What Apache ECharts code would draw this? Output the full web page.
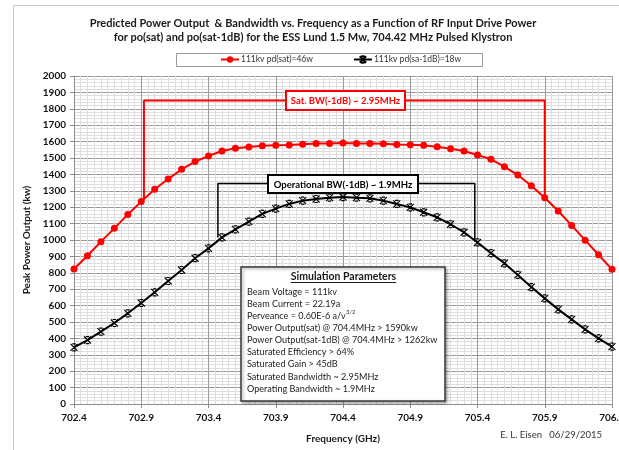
<!DOCTYPE html>
<html>
<head>
<meta charset="utf-8">
<script src="https://cdn.jsdelivr.net/npm/echarts@6/dist/echarts.min.js"></script>
<style>
html,body{margin:0;padding:0;background:#fff;}
#chart{width:619px;height:450px;}
</style>
</head>
<body>
<div id="chart"></div>
<script>
// ---- data ----
const frequency = [702.4, 702.5, 702.6, 702.7, 702.8, 702.9, 703.0, 703.1, 703.2, 703.3,
  703.4, 703.5, 703.6, 703.7, 703.8, 703.9, 704.0, 704.1, 704.2, 704.3,
  704.4, 704.5, 704.6, 704.7, 704.8, 704.9, 705.0, 705.1, 705.2, 705.3,
  705.4, 705.5, 705.6, 705.7, 705.8, 705.9, 706.0, 706.1, 706.2, 706.3, 706.4];
const satPower = [823, 904, 990, 1071, 1156, 1234, 1309, 1372, 1431, 1478,
  1512, 1543, 1559, 1567, 1575, 1577, 1579, 1584, 1589, 1589,
  1591, 1589, 1589, 1587, 1583, 1581, 1577, 1569, 1557, 1543,
  1518, 1492, 1447, 1396, 1331, 1258, 1177, 1089, 999, 910, 821];
const sat1dBPower = [345, 390, 441, 494, 553, 616, 681, 750, 817, 889,
  949, 1016, 1065, 1112, 1159, 1191, 1220, 1240, 1250, 1258,
  1262, 1258, 1254, 1240, 1220, 1199, 1169, 1138, 1096, 1047,
  985, 920, 858, 787, 713, 644, 577, 516, 455, 400, 350];
const seriesNames = ['111kv pd(sat)=46w', '111kv pd(sa-1dB)=18w'];
const satBracketX = [702.92, 702.92, 705.9, 705.9];
const satBracketY = [1250, 1850, 1850, 1262];
const opBracketX = [703.47, 703.47, 705.38, 705.38];
const opBracketY = [1016, 1345, 1345, 990];
const xTickStart = 702.4, xTickEnd = 706.4, xTickStep = 0.5;
const yTickStart = 0, yTickEnd = 2000, yTickStep = 100;
const titleLines = ['Predicted Power Output  & Bandwidth vs. Frequency as a Function of RF Input Drive Power',
  'for po(sat) and po(sat-1dB) for the ESS Lund 1.5 Mw, 704.42 MHz Pulsed Klystron'];
const satBWLabel = 'Sat. BW(-1dB) ~ 2.95MHz';
const opBWLabel = 'Operational BW(-1dB) ~ 1.9MHz';
const paramsTitle = 'Simulation Parameters';
const paramsLines = ['Beam Voltage = 111kv', 'Beam Current = 22.19a', 'Perveance = 0.60E-6 a/v',
  'Power Output(sat) @ 704.4MHz > 1590kw', 'Power Output(sat-1dB) @ 704.4MHz > 1262kw',
  'Saturated Efficiency > 64%', 'Saturated Gain > 45dB', 'Saturated Bandwidth ~ 2.95MHz',
  'Operating Bandwidth ~ 1.9MHz'];
const credit = 'E. L. Eisen   06/29/2015';

// ---- chart ----
const FONT = 'Lato';
const chart = echarts.init(document.getElementById('chart'), null, {renderer: 'canvas'});

function textWidth(t, font) {
  const c = document.createElement('canvas').getContext('2d');
  c.font = font;
  return c.measureText(t).width;
}

const satData = frequency.map((f, i) => [f, satPower[i]]);
const s1dBData = frequency.map((f, i) => [f, sat1dBPower[i]]);
const satBr = satBracketX.map((x, i) => [x, satBracketY[i]]);
const opBr = opBracketX.map((x, i) => [x, opBracketY[i]]);

const paramY = [292.3, 304.3, 316.2, 328.2, 340.2, 352.2, 364.4, 376.6, 388.7];
const paramFont = 9.1;
const ptW = textWidth(paramsTitle, 'bold 10.5px ' + FONT);
const pervW = textWidth(paramsLines[2], paramFont + 'px ' + FONT);

const graphics = [
  {type: 'rect', z: -10, silent: true, shape: {x: 13.5, y: 5.5, width: 800, height: 600},
    style: {fill: null, stroke: '#c8c8c8', lineWidth: 1}},
  // legend frame
  {type: 'rect', z: 50, silent: true, shape: {x: 176.5, y: 53.5, width: 306, height: 13},
    style: {fill: null, stroke: '#9a9a9a', lineWidth: 1}},
  // sat bw box
  {type: 'rect', z: 60, shape: {x: 286, y: 91, width: 119, height: 19},
    style: {fill: '#fff', stroke: '#ff0000', lineWidth: 2}},
  {type: 'text', z: 61, x: 345.5, y: 101, style: {text: satBWLabel, fill: '#ff0000',
    font: 'bold 9.5px ' + FONT, align: 'center', verticalAlign: 'middle'}},
  // op bw box
  {type: 'rect', z: 60, shape: {x: 268, y: 175, width: 150, height: 18},
    style: {fill: '#fff', stroke: '#000', lineWidth: 2}},
  {type: 'text', z: 61, x: 343, y: 184.5, style: {text: opBWLabel, fill: '#000',
    font: 'bold 9.5px ' + FONT, align: 'center', verticalAlign: 'middle'}},
  // params box
  {type: 'rect', z: 60, shape: {x: 241, y: 267, width: 204, height: 134},
    style: {fill: '#fff', stroke: '#3a3a3a', lineWidth: 1.5, shadowBlur: 3, shadowOffsetX: 1.5, shadowOffsetY: 1.5, shadowColor: 'rgba(0,0,0,0.35)'}},
  {type: 'text', z: 61, x: 343.5, y: 277, style: {text: paramsTitle, fill: '#1a1a1a',
    font: 'bold 10.5px ' + FONT, align: 'center', verticalAlign: 'middle'}},
  {type: 'line', z: 61, silent: true, shape: {x1: 343.5 - ptW / 2, y1: 282.5, x2: 343.5 + ptW / 2, y2: 282.5},
    style: {stroke: '#1a1a1a', lineWidth: 1}},
  {type: 'text', z: 61, x: 247 + pervW + 0.5, y: 312.5, style: {text: '3/2', fill: '#222',
    font: '5.5px ' + FONT, align: 'left', verticalAlign: 'middle'}},
  // credit
  {type: 'text', z: 10, x: 602, y: 435, style: {text: credit, fill: '#333',
    font: '9.5px ' + FONT, align: 'right', verticalAlign: 'middle'}}
];
paramsLines.forEach((t, i) => {
  graphics.push({type: 'text', z: 61, x: 247, y: paramY[i], style: {text: t, fill: '#222',
    font: paramFont + 'px ' + FONT, align: 'left', verticalAlign: 'middle'}});
});

const starPath = 'path://M0,0L10,10M10,0L0,10M2.5,0L7.5,0M2.5,10L7.5,10';

chart.setOption({
  animation: false,
  backgroundColor: '#fff',
  textStyle: {fontFamily: FONT},
  title: {
    text: titleLines.join('\n'), left: 313, top: 16, padding: 0, textAlign: 'center',
    textStyle: {fontFamily: FONT, fontSize: 11, fontWeight: 'bold', color: '#1a1a1a', lineHeight: 14}
  },
  legend: {
    data: seriesNames, left: 220, top: 55, itemGap: 40, itemWidth: 18, itemHeight: 8, padding: 0,
    textStyle: {fontFamily: FONT, fontSize: 8.5, color: '#333', padding: [0, 0, 0, -3]}
  },
  grid: {left: 74, right: 7, top: 76, bottom: 46, containLabel: false, outerBoundsMode: 'none'},
  xAxis: {
    type: 'value', min: xTickStart, max: xTickEnd, interval: xTickStep,
    name: 'Frequency (GHz)', nameLocation: 'middle', nameGap: 30,
    nameTextStyle: {fontFamily: FONT, fontSize: 10, fontWeight: 'bold', color: '#1a1a1a'},
    axisLine: {show: true, lineStyle: {color: '#8c8c8c', width: 1}},
    axisTick: {show: true, length: 4, lineStyle: {color: '#8c8c8c'}},
    axisLabel: {margin: 9, fontFamily: FONT, fontSize: 10, fontWeight: 'bold', color: '#111',
      hideOverlap: false, formatter: v => v.toFixed(1)},
    splitLine: {show: true, lineStyle: {color: '#9a9a9a', width: 1}},
    minorTick: {show: false, splitNumber: 10},
    minorSplitLine: {show: true, lineStyle: {color: '#dedede', width: 1}}
  },
  yAxis: {
    type: 'value', min: yTickStart, max: yTickEnd, interval: yTickStep,
    name: 'Peak Power Output (kw)', nameLocation: 'middle', nameGap: 41,
    nameTextStyle: {fontFamily: FONT, fontSize: 10, fontWeight: 'bold', color: '#1a1a1a'},
    axisLine: {show: true, lineStyle: {color: '#8c8c8c', width: 1}},
    axisTick: {show: true, length: 4, lineStyle: {color: '#8c8c8c'}},
    axisLabel: {margin: 8, fontFamily: FONT, fontSize: 10, fontWeight: 'bold', color: '#111',
      formatter: v => String(v)},
    splitLine: {show: true, lineStyle: {color: '#9a9a9a', width: 1}},
    minorTick: {show: false, splitNumber: 5},
    minorSplitLine: {show: true, lineStyle: {color: '#dedede', width: 1}}
  },
  graphic: graphics,
  series: [
    {name: seriesNames[0], type: 'line', data: satData, symbol: 'circle', symbolSize: 7,
      lineStyle: {color: '#ff0000', width: 2}, itemStyle: {color: '#ff0000'}, z: 5},
    {name: seriesNames[1], type: 'line', data: s1dBData, symbol: starPath, symbolSize: 7,
      lineStyle: {color: '#000', width: 2}, itemStyle: {color: '#000', borderColor: '#000', borderWidth: 1.2}, z: 5},
    {name: 'satBracket', type: 'line', data: satBr, symbol: 'none', silent: true,
      lineStyle: {color: '#ff0000', width: 2}, z: 3},
    {name: 'opBracket', type: 'line', data: opBr, symbol: 'none', silent: true,
      lineStyle: {color: '#000', width: 1.5}, z: 3}
  ]
});
</script>
</body>
</html>
